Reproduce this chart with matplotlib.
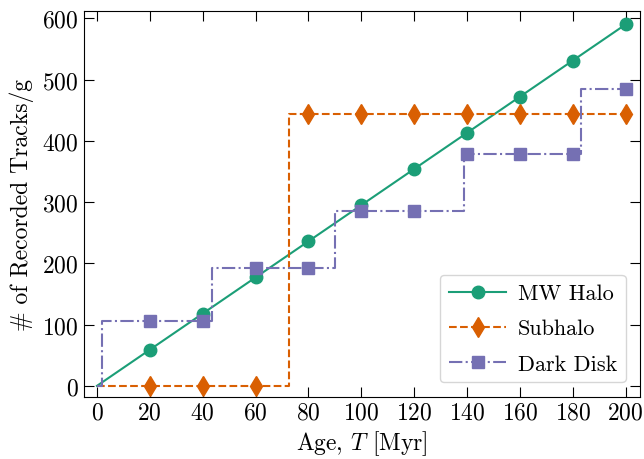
import matplotlib
matplotlib.use("Agg")
import matplotlib.pyplot as plt
from matplotlib.legend_handler import HandlerTuple

plt.rcParams["font.family"] = ["cmr10", "DejaVu Serif"]
plt.rcParams["mathtext.fontset"] = "cm"
plt.rcParams["axes.formatter.use_mathtext"] = True
plt.rcParams["font.size"] = 12

# sampled ages (markers)
ages = [20, 40, 60, 80, 100, 120, 140, 160, 180, 200]
mw_halo = [59, 118, 177, 236, 295, 354, 413, 472, 531, 590]
subhalo = [0, 0, 0, 443, 443, 443, 443, 443, 443, 443]
dark_disk = [106, 106, 193, 193, 286, 286, 378, 378, 378, 485]

# step curves: jump times and levels after each jump
sub_jumps = [0, 72.5, 200]
sub_levels = [0, 443, 443]
disk_jumps = [0, 2, 43.5, 90, 138.7, 183, 200]
disk_levels = [0, 106, 193, 286, 378, 485, 485]

c_mw, c_sub, c_disk = "#1b9e77", "#d95f02", "#7570b3"

fig = plt.figure(figsize=(6.44, 4.6), dpi=100)
ax = fig.add_axes([0.130, 0.135, 0.864, 0.839])

l1, = ax.plot([0] + ages, [0] + mw_halo, color=c_mw, lw=1.5, ls="-")
m1, = ax.plot(ages, mw_halo, color=c_mw, marker="o", ms=9, ls="none")
l2, = ax.plot(sub_jumps, sub_levels, color=c_sub, lw=1.5, ls="--",
              drawstyle="steps-post")
m2, = ax.plot(ages, subhalo, color=c_sub, marker="d", ms=10, ls="none")
l3, = ax.plot(disk_jumps, disk_levels, color=c_disk, lw=1.5, ls="-.",
              drawstyle="steps-post")
m3, = ax.plot(ages, dark_disk, color=c_disk, marker="s", ms=8.5, ls="none")

ax.set_xlim(-5, 205.5)
ax.set_ylim(-18, 612)
ax.set_xticks(range(0, 201, 20))
ax.set_yticks(range(0, 601, 100))
ax.tick_params(direction="in", top=True, right=True, length=7, labelsize=17)
ax.set_xlabel(r"Age, $T$ [Myr]", fontsize=17, labelpad=3)
ax.set_ylabel(r"# of Recorded Tracks/g", fontsize=17, labelpad=6)

ax.legend([(l1, m1), (l2, m2), (l3, m3)], ["MW Halo", "Subhalo", "Dark Disk"],
          handler_map={tuple: HandlerTuple(ndivide=1)}, loc="lower right",
          fontsize=16, handlelength=2.6, handletextpad=0.5,
          labelspacing=0.7, borderaxespad=0.65)

fig.savefig("out.png", dpi=100)
